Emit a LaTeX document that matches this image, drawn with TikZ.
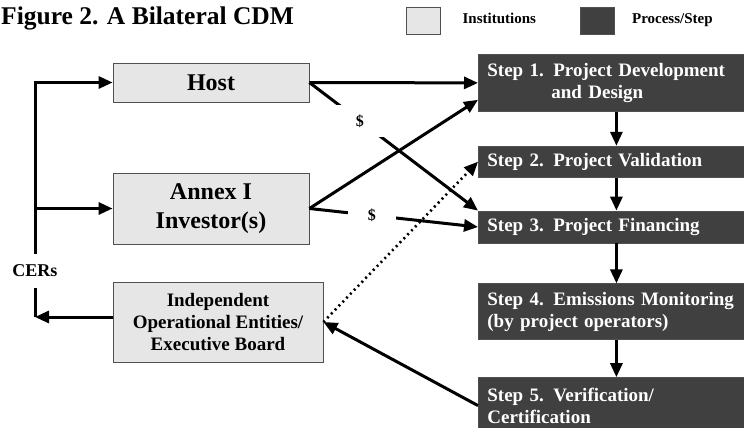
\documentclass[tikz,border=0pt]{standalone}
\usepackage{fontspec}
\setmainfont{Liberation Serif}
\usepackage{tikz}
\usetikzlibrary{positioning, arrows.meta}
\definecolor{cinst}{HTML}{E6E6E6}
\definecolor{cstep}{HTML}{404040}
\definecolor{cedge}{HTML}{505050}
\tikzset{
  inst/.style={draw=cedge, line width=0.8pt, fill=cinst, align=center, inner sep=0pt},
  stepbox/.style={draw=cedge, line width=0.8pt, fill=cstep, text=white, align=left,
                  text width=258pt, inner xsep=9pt, inner ysep=0pt, anchor=north west,
                  font=\fontsize{19}{22}\selectfont\bfseries},
  key/.style={draw=cedge, line width=0.8pt, minimum width=34pt, minimum height=27pt},
  keytxt/.style={inner sep=0pt, text height=10pt, text depth=3pt,
                 font=\fontsize{15}{15}\selectfont\bfseries},
  dlr/.style={fill=white, minimum width=48pt, minimum height=32pt, inner sep=0pt,
              font=\fontsize{16}{16}\selectfont\bfseries},
  fl/.style={-{Triangle[length=14pt, width=12pt]}, line width=3pt},
  ln/.style={line width=3pt},
}
\begin{document}
\begin{tikzpicture}[x=1pt, y=-1pt]
  \useasboundingbox (0,0) rectangle (744,428);
  % title and key
  \node[anchor=base west, inner sep=0pt, font=\fontsize{25.5}{28}\selectfont\bfseries] (title) at (1,25) {Figure 2. A Bilateral CDM};
  \node[key, fill=cinst] (kinst) at (423,20.5) {};
  \node[keytxt, right=22pt of kinst] (tinst) {Institutions};
  \node[key, fill=cstep] (kstep) at (597.5,20.5) {};
  \node[keytxt, right=17pt of kstep] (tstep) {Process/Step};
  % institutions
  \node[inst, minimum width=196pt, minimum height=39pt, font=\fontsize{24}{29}\selectfont\bfseries] (host) at (211,82.5) {Host};
  \node[inst, minimum width=196pt, minimum height=71pt, font=\fontsize{24}{29}\selectfont\bfseries] (annex) at (211,208.5) {Annex I\\Investor(s)};
  \node[inst, minimum width=210pt, minimum height=80pt, font=\fontsize{19}{22}\selectfont\bfseries] (ioe) at (218,322) {Independent\\Operational Entities/\\Executive Board};
  \node[inner sep=0pt, minimum height=34pt, font=\fontsize{18}{18}\selectfont\bfseries] (cers) at (35,271) {CERs};
  % steps
  \node[stepbox, minimum height=57pt] (s1) at (478,54) {Step 1. Project Development\\\hspace*{64pt}and Design};
  \node[stepbox, minimum height=31pt, below=34pt of s1] (s2) {Step 2. Project Validation};
  \node[stepbox, minimum height=32pt, below=33pt of s2] (s3) {Step 3. Project Financing};
  \node[stepbox, minimum height=56pt, below=40pt of s3] (s4) {Step 4. Emissions Monitoring\\(by project operators)};
  \node[stepbox, minimum height=56pt, below=37pt of s4] (s5) {Step 5. Verification/\\Certification};
  % flows
  \coordinate (ioeout) at ([yshift=5pt]ioe.west);
  \draw[fl] (cers.north) |- (host.west);
  \draw[fl] (cers.north) |- (annex.west);
  \draw[fl] (ioeout) -- (cers.south |- ioeout);
  \draw[ln] (cers.south |- ioeout) -- (cers.south);
  \draw[fl] (host.east) -- (s1.west);
  \draw[fl] (host.east) -- node[dlr, pos=0.3] {\$} (s3.north west);
  \draw[fl] (annex.east) -- ([yshift=12pt]s1.south west);
  \draw[fl] (annex.east) -- node[dlr, pos=0.37] {\$} (s3.west);
  \draw[fl, line width=2.6pt, dash pattern=on 2pt off 3.5pt] (ioe.east) -- (s2.west);
  \draw[fl] (s5.west) -- (ioe.east);
  \draw[fl] (s1) -- (s2);
  \draw[fl] (s2) -- (s3);
  \draw[fl] (s3) -- (s4);
  \draw[fl] (s4) -- (s5);
\end{tikzpicture}
\end{document}
